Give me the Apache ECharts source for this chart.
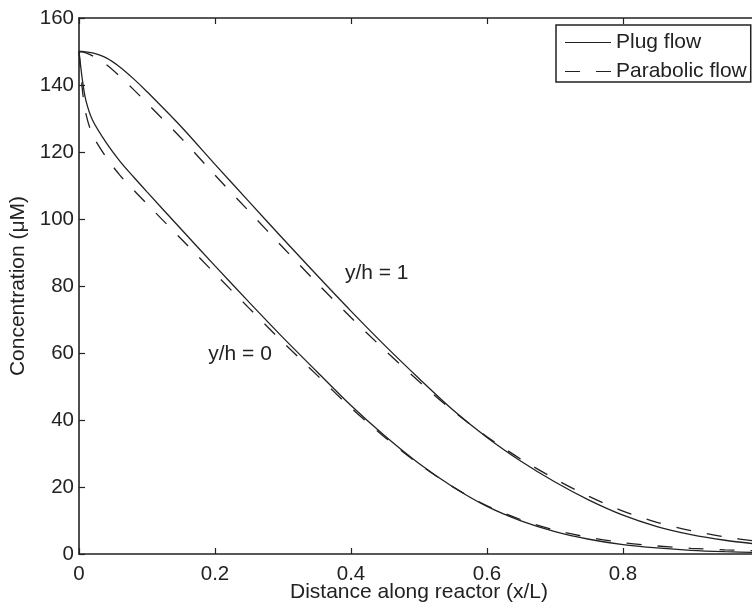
<!DOCTYPE html>
<html>
<head>
<meta charset="utf-8">
<script src="https://cdn.jsdelivr.net/npm/echarts@6/dist/echarts.min.js"></script>
<style>
  html, body { margin: 0; padding: 0; background: #fff; }
  #chart { width: 752px; height: 605px; }
</style>
</head>
<body>
<div id="chart"></div>
<script>
// distance along reactor (x/L)
const xs = [0, 0.005, 0.01, 0.02, 0.04, 0.06, 0.08, 0.1, 0.15, 0.2, 0.25, 0.3, 0.35,
    0.4, 0.45, 0.5, 0.55, 0.6, 0.65, 0.7, 0.75, 0.8, 0.85, 0.9, 0.95, 1.0];

// concentration (uM), y/h = 1
const plugTop = [150, 150, 149.9, 149.6, 148.1, 145.4, 141.9, 138.0, 127.6, 116.3, 105.2, 94.1, 83.2,
    72.5, 62.2, 52.4, 43.0, 34.8, 27.7, 21.5, 16.1, 11.6, 8.2, 5.8, 4.1, 2.9];
const parabolicTop = [150, 149.9, 149.6, 148.7, 146.1, 142.6, 138.7, 134.6, 124.2, 113.1, 102.3, 91.5, 80.9,
    70.6, 60.8, 51.5, 42.7, 35.0, 28.3, 22.4, 17.2, 12.8, 9.45, 7.0, 5.1, 3.7];

// concentration (uM), y/h = 0
const plugBottom = [150, 141.5, 135.5, 129.5, 122.8, 117.3, 112.6, 108.1, 97.0, 86.0, 75.2, 64.6, 54.4,
    44.3, 35.2, 27.0, 20.0, 14.2, 9.9, 6.7, 4.4, 2.8, 1.8, 1.1, 0.7, 0.45];
const parabolicBottom = [150, 138.5, 131.5, 125.1, 118.4, 113.1, 108.7, 104.5, 94.1, 83.7, 73.4, 63.2, 53.4,
    43.6, 34.8, 26.85, 20.05, 14.4, 10.25, 7.15, 4.95, 3.4, 2.4, 1.7, 1.25, 0.95];

const legendNames = ['Plug flow', 'Parabolic flow'];

const ink = '#222';
const font = 'Liberation Sans, Arial, Helvetica, sans-serif';
const dash = [15, 16];

const pairs = (ys) => xs.map((x, i) => [x, ys[i]]);

function curve(name, ys, dashed, label) {
    const s = {
        name,
        type: 'line',
        data: pairs(ys),
        symbol: 'none',
        smooth: 0.3,
        lineStyle: { color: ink, width: 1.3, type: dashed ? dash : 'solid' },
        itemStyle: { color: ink },
        emphasis: { disabled: true },
        z: dashed ? 3 : 4,
    };
    if (label) {
        s.markPoint = {
            symbol: 'circle',
            symbolSize: 0,
            silent: true,
            label: {
                show: true,
                position: 'right',
                distance: 0,
                formatter: label.text,
                color: ink,
                fontFamily: font,
                fontSize: 21,
            },
            data: [{ coord: [label.x, label.y] }],
        };
    }
    return s;
}

const chart = echarts.init(document.getElementById('chart'), null, { renderer: 'canvas' });

const axisLine = { show: true, lineStyle: { color: ink, width: 1.6 } };
const axisTick = { show: true, inside: true, length: 6, lineStyle: { color: ink, width: 1.2 } };

// legend keys drawn as thin bars: solid, and two dashes
const solidKey = 'path://M0,0H46V1H0Z';
const dashKey = 'path://M0,0H15V1H0ZM31,0H46V1H31Z';

chart.setOption({
    animation: false,
    backgroundColor: '#fff',
    textStyle: { fontFamily: font, color: ink },
    grid: { left: 79, top: 18, width: 680, bottom: 51, containLabel: false, outerBoundsMode: 'none' },
    legend: {
        data: [
            { name: legendNames[0], icon: solidKey },
            { name: legendNames[1], icon: dashKey },
        ],
        orient: 'vertical',
        left: 556,
        top: 25,
        padding: [7, 4, 0, 9],
        itemGap: 8,
        itemWidth: 46,
        itemHeight: 1.4,
        backgroundColor: '#fff',
        borderColor: ink,
        borderWidth: 1.5,
        borderRadius: 0,
        selectedMode: false,
        textStyle: { color: ink, fontFamily: font, fontSize: 21 },
    },
    xAxis: [
        {
            type: 'value',
            min: 0,
            max: 1,
            interval: 0.2,
            name: 'Distance along reactor (x/L)',
            nameLocation: 'middle',
            nameGap: 28,
            nameMoveOverlap: false,
            nameTextStyle: { color: ink, fontFamily: font, fontSize: 21 },
            axisLine,
            axisTick,
            splitLine: { show: false },
            axisLabel: { color: ink, fontFamily: font, fontSize: 20.5, margin: 10 },
        },
        {
            type: 'value',
            position: 'top',
            min: 0,
            max: 1,
            interval: 0.2,
            axisLine,
            axisTick,
            splitLine: { show: false },
            axisLabel: { show: false },
        },
    ],
    yAxis: {
        type: 'value',
        min: 0,
        max: 160,
        interval: 20,
        name: 'Concentration (\u03bcM)',
        nameLocation: 'middle',
        nameRotate: 90,
        nameGap: 50,
        nameMoveOverlap: false,
        nameTextStyle: { color: ink, fontFamily: font, fontSize: 21 },
        axisLine,
        axisTick,
        splitLine: { show: false },
        axisLabel: { color: ink, fontFamily: font, fontSize: 20.5, margin: 5 },
    },
    series: [
        curve('Plug flow', plugTop, false, { text: 'y/h = 1', x: 0.391, y: 83.9 }),
        curve('Parabolic flow', parabolicTop, true),
        curve('Plug flow', plugBottom, false, { text: 'y/h = 0', x: 0.19, y: 59.6 }),
        curve('Parabolic flow', parabolicBottom, true),
    ],
});
</script>
</body>
</html>
